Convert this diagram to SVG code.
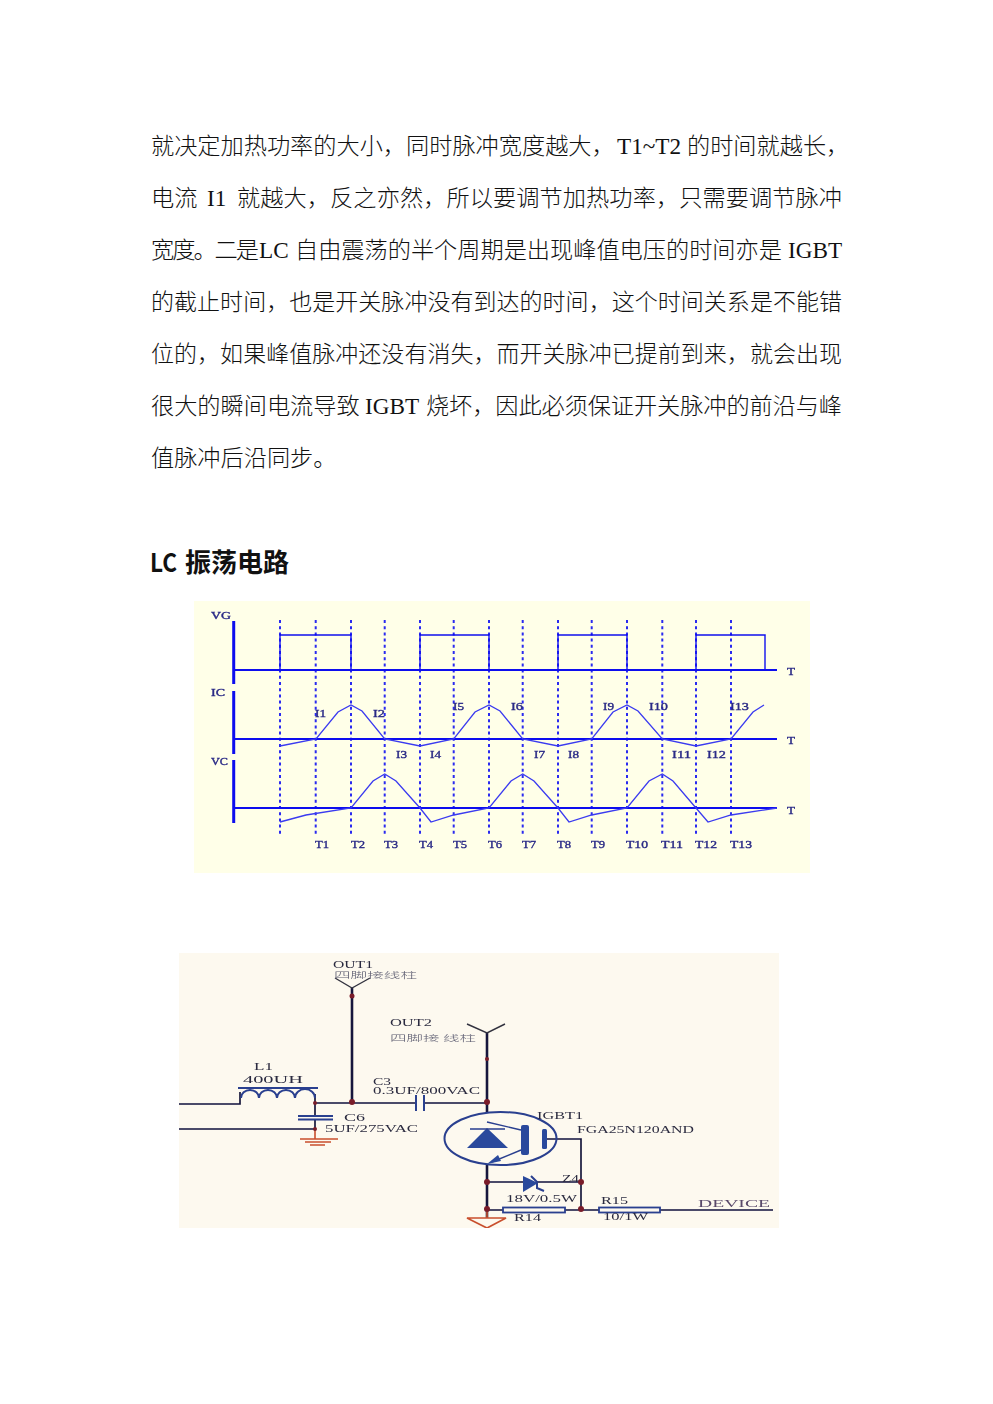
<svg xmlns="http://www.w3.org/2000/svg" width="993" height="1404" viewBox="0 0 993 1404">
<style>
.b{font-family:"Liberation Serif","Noto Sans CJK SC",serif;font-size:23.2px;font-weight:300;fill:#111}
.m{font-size:23px}
.h{font-family:"Noto Sans CJK SC",sans-serif;font-size:26px;font-weight:700;fill:#111}
.w{font-family:"Liberation Serif",serif;font-size:10px;fill:#2a2a86;stroke:#2a2a86;stroke-width:.35}
.s{font-family:"Liberation Serif",serif;font-size:10.5px;fill:#2c2c40}
.c{font-family:"Noto Sans CJK SC",sans-serif;font-size:8.5px;font-weight:300;fill:#5a5a6e}
.d{stroke:#2a2af0;stroke-width:2;stroke-dasharray:3 3.2;fill:none}
.a{stroke:#0a0aee;stroke-width:3;fill:none}
.l{stroke:#0a0aee;stroke-width:2;fill:none}
.p{stroke:#0a0aee;stroke-width:1.4;fill:none}
.t{stroke:#3a3af0;stroke-width:1.3;fill:none}
.k{stroke:#15153c;stroke-width:1.7;fill:none}
.kk{stroke:#15153c;stroke-width:2.6;fill:none}
.q{stroke:#33333f;stroke-width:1.4;fill:none}
.n{stroke:#2a3f8f;stroke-width:2;fill:none}
.n1{stroke:#2a3f8f;stroke-width:1.4;fill:none}
.o{stroke:#c9502e;stroke-width:1.6;fill:none}
.f{fill:#2a4a9c;stroke:none}
.r{fill:#7a1f2a}
.e{fill:#fdf9ef;stroke:#2a3f8f;stroke-width:1.8}
</style>
<defs><filter id="soft" x="0" y="0" width="1" height="1"><feGaussianBlur stdDeviation="0.45"/></filter></defs>
<g id="page-text">
<text class="b" x="151" y="154">就决定加热功率的大小，同时脉冲宽度越大，</text>
<text class="b" x="617" y="154">T1~T2</text>
<text class="b" x="687" y="154">的时间就越长，</text>
<text class="b" x="151" y="206">电流</text>
<text class="b" x="207" y="206">I1</text>
<text class="b" x="237" y="206" textLength="605">就越大，反之亦然，所以要调节加热功率，只需要调节脉冲</text>
<text class="b" x="151" y="258" textLength="108">宽度。二是</text>
<text class="b" x="259" y="258">LC</text>
<text class="b" x="295" y="258">自由震荡的半个周期是出现峰值电压的时间亦是</text>
<text class="b" x="788" y="258">IGBT</text>
<text class="b m" x="151" y="310" textLength="691">的截止时间，也是开关脉冲没有到达的时间，这个时间关系是不能错</text>
<text class="b m" x="151" y="362" textLength="691">位的，如果峰值脉冲还没有消失，而开关脉冲已提前到来，就会出现</text>
<text class="b" x="151" y="414">很大的瞬间电流导致</text>
<text class="b" x="365" y="414">IGBT</text>
<text class="b" x="426" y="414" textLength="416">烧坏，因此必须保证开关脉冲的前沿与峰</text>
<text class="b" x="151" y="466">值脉冲后沿同步。</text>
<text class="h" x="150" y="572" textLength="27" lengthAdjust="spacingAndGlyphs">LC</text>
<text class="h" x="185" y="572">振荡电路</text>
</g>
<rect x="194" y="601" width="616" height="272" fill="#ffffe8"/>
<g id="waveforms" filter="url(#soft)">
<path class="d" d="M280 620V834M315.700 620V834M351 620V834M384.700 620V834M420 620V834M453.700 620V834M489 620V834M522.700 620V834M558 620V834M591.700 620V834M627 620V834M662.300 620V834M696 620V834M731 620V834"/>
<path class="a" d="M233.700 621V684M233.700 691V754M233.700 760V823"/>
<path class="l" d="M233 670H777M233 739H777M233 808H777"/>
<path class="p" d="M280 670V635H351V670M420 670V635H489V670M558 670V635H627V670M696 670V635H765V670"/>
<path class="t" d="M280 746L316 739L338 712L351 705L362 711L384.700 739L420 746L453.700 739L475 712L489 705L500 711L522.700 739L558 746L591.700 739L613 712L627 705L638 711L662.300 739L696 746L731 739L753 712L764 705"/>
<path class="t" d="M280 822L306 815L351 808L373 781L384.700 774L396 781L420 808L431 822L453.700 815L489 808L511 781L522.700 774L534 781L558 808L569 822L591.700 815L627 808L649 781L662.300 774L673 781L696 808L708 822L731 815L777 808"/>
<g class="w">
<text x="211" y="619" textLength="20" lengthAdjust="spacingAndGlyphs">VG</text>
<text x="211" y="696" textLength="14" lengthAdjust="spacingAndGlyphs">IC</text>
<text x="211" y="765" textLength="17" lengthAdjust="spacingAndGlyphs">VC</text>
<text x="787" y="675" textLength="8" lengthAdjust="spacingAndGlyphs">T</text>
<text x="787" y="744" textLength="8" lengthAdjust="spacingAndGlyphs">T</text>
<text x="787" y="814" textLength="8" lengthAdjust="spacingAndGlyphs">T</text>
<text x="315" y="717" textLength="11" lengthAdjust="spacingAndGlyphs">I1</text>
<text x="373" y="717" textLength="12" lengthAdjust="spacingAndGlyphs">I2</text>
<text x="396" y="758" textLength="11" lengthAdjust="spacingAndGlyphs">I3</text>
<text x="430" y="758" textLength="11" lengthAdjust="spacingAndGlyphs">I4</text>
<text x="453" y="710" textLength="11" lengthAdjust="spacingAndGlyphs">I5</text>
<text x="511" y="710" textLength="12" lengthAdjust="spacingAndGlyphs">I6</text>
<text x="534" y="758" textLength="11" lengthAdjust="spacingAndGlyphs">I7</text>
<text x="568" y="758" textLength="11" lengthAdjust="spacingAndGlyphs">I8</text>
<text x="603" y="710" textLength="11" lengthAdjust="spacingAndGlyphs">I9</text>
<text x="649" y="710" textLength="19" lengthAdjust="spacingAndGlyphs">I10</text>
<text x="672" y="758" textLength="19" lengthAdjust="spacingAndGlyphs">I11</text>
<text x="707" y="758" textLength="19" lengthAdjust="spacingAndGlyphs">I12</text>
<text x="730" y="710" textLength="19" lengthAdjust="spacingAndGlyphs">I13</text>
<text x="315" y="848" textLength="14" lengthAdjust="spacingAndGlyphs">T1</text>
<text x="351" y="848" textLength="14" lengthAdjust="spacingAndGlyphs">T2</text>
<text x="384" y="848" textLength="14" lengthAdjust="spacingAndGlyphs">T3</text>
<text x="419" y="848" textLength="14" lengthAdjust="spacingAndGlyphs">T4</text>
<text x="453" y="848" textLength="14" lengthAdjust="spacingAndGlyphs">T5</text>
<text x="488" y="848" textLength="14" lengthAdjust="spacingAndGlyphs">T6</text>
<text x="522" y="848" textLength="14" lengthAdjust="spacingAndGlyphs">T7</text>
<text x="557" y="848" textLength="14" lengthAdjust="spacingAndGlyphs">T8</text>
<text x="591" y="848" textLength="14" lengthAdjust="spacingAndGlyphs">T9</text>
<text x="626" y="848" textLength="22" lengthAdjust="spacingAndGlyphs">T10</text>
<text x="661" y="848" textLength="22" lengthAdjust="spacingAndGlyphs">T11</text>
<text x="695" y="848" textLength="22" lengthAdjust="spacingAndGlyphs">T12</text>
<text x="730" y="848" textLength="22" lengthAdjust="spacingAndGlyphs">T13</text>
</g>
</g>
<rect x="179" y="953" width="600" height="275" fill="#fdf9ef"/>
<g id="circuit" filter="url(#soft)">
<g id="connectors">
<path class="k" d="M179 1104H240V1092M315 1094V1116M315 1103H415M424 1103H487M179 1129H315M315 1120V1129"/>
<path class="kk" d="M352 988V1103M487 1033V1112M487 1164V1218"/>
<path class="q" d="M335 978L352 988L370 978M467 1024L487 1033L505 1024"/>
<path class="k" d="M547 1139H581V1210M487 1182H523M537 1182H581M487 1210H503M565 1210H599M660 1210H773"/>
</g>
<g id="L1"><path class="n" d="M238 1088H318"/><path class="n" d="M241 1098a9 8 0 0 1 18 0a9 8 0 0 1 18 0a9 8 0 0 1 18 0a9 8 0 0 1 20 0"/></g>
<g id="C3"><path class="n" d="M416 1095V1111M424 1095V1111"/></g>
<g id="C6"><path class="n" d="M298 1116H333M298 1119.500H333"/></g>
<g id="GND1"><path class="o" d="M315 1129V1139M300 1139H338M305 1142H331M310 1145H325"/></g>
<g id="IGBT1">
<ellipse class="n" cx="500.500" cy="1138.500" rx="56" ry="26.500"/>
<path class="f" d="M487 1128L508 1148H467Z"/>
<path class="n1" d="M470 1129H505"/>
<rect class="f" x="521" y="1125" width="8" height="30" rx="2"/>
<rect class="f" x="542" y="1129" width="5" height="20" rx="1.500"/>
<path class="n1" d="M487 1122L521 1130M521 1150L492 1162"/>
<path class="f" d="M487 1164L498 1155L501 1161Z"/>
</g>
<g id="Z4"><path class="f" d="M523 1176L538 1183L523 1192Z"/><path class="n" d="M531 1176L537 1182V1188L544 1191"/></g>
<g id="R14"><rect class="e" x="503" y="1207.500" width="62" height="5"/></g>
<g id="R15"><rect class="e" x="599" y="1207.500" width="61" height="5"/></g>
<g id="GND2"><path class="o" d="M487 1210V1218M467 1218H506L487 1228Z"/></g>
<g id="nodes">
<circle class="r" cx="352" cy="996" r="2.500"/><circle class="r" cx="352" cy="1102" r="3"/>
<circle class="r" cx="315" cy="1103" r="2"/><circle class="r" cx="315" cy="1129" r="2"/>
<circle class="r" cx="487" cy="1059" r="2"/><circle class="r" cx="487" cy="1102" r="3"/>
<circle class="r" cx="487" cy="1182" r="3"/><circle class="r" cx="487" cy="1209" r="3"/>
<circle class="r" cx="581" cy="1182" r="3"/><circle class="r" cx="581" cy="1209" r="3"/>
</g>
<g id="labels">
<text class="s" x="333" y="968" textLength="40" lengthAdjust="spacingAndGlyphs">OUT1</text>
<text class="c" x="334" y="978" textLength="83" lengthAdjust="spacingAndGlyphs">四脚接线柱</text>
<text class="s" x="390" y="1026" textLength="42" lengthAdjust="spacingAndGlyphs">OUT2</text>
<text class="c" x="390" y="1041" textLength="86" lengthAdjust="spacingAndGlyphs">四脚接 线柱</text>
<text class="s" x="254" y="1070" textLength="19" lengthAdjust="spacingAndGlyphs">L1</text>
<text class="s" x="243" y="1083" textLength="60" lengthAdjust="spacingAndGlyphs">400UH</text>
<text class="s" x="373" y="1085" textLength="18" lengthAdjust="spacingAndGlyphs">C3</text>
<text class="s" x="373" y="1094" textLength="107" lengthAdjust="spacingAndGlyphs">0.3UF/800VAC</text>
<text class="s" x="344" y="1121" textLength="21" lengthAdjust="spacingAndGlyphs">C6</text>
<text class="s" x="325" y="1132" textLength="93" lengthAdjust="spacingAndGlyphs">5UF/275VAC</text>
<text class="s" x="537" y="1119" textLength="46" lengthAdjust="spacingAndGlyphs">IGBT1</text>
<text class="s" x="577" y="1133" textLength="117" lengthAdjust="spacingAndGlyphs">FGA25N120AND</text>
<text class="s" x="562" y="1182" textLength="17" lengthAdjust="spacingAndGlyphs">Z4</text>
<text class="s" x="506" y="1202" textLength="71" lengthAdjust="spacingAndGlyphs">18V/0.5W</text>
<text class="s" x="601" y="1204" textLength="27" lengthAdjust="spacingAndGlyphs">R15</text>
<text class="s" x="603" y="1220" textLength="45" lengthAdjust="spacingAndGlyphs">10/1W</text>
<text class="s" x="514" y="1221" textLength="27" lengthAdjust="spacingAndGlyphs">R14</text>
<text class="s" x="698" y="1207" textLength="72" lengthAdjust="spacingAndGlyphs" style="fill:#5a4a6a">DEVICE</text>
</g>
</g>
</svg>
